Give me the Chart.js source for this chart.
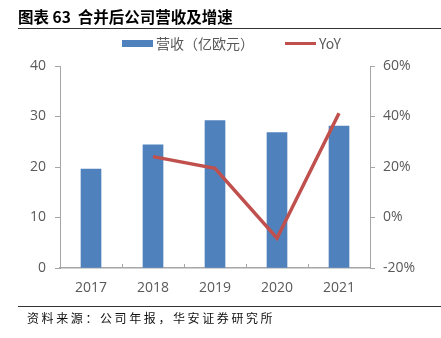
<!DOCTYPE html>
<html>
<head>
<meta charset="utf-8">
<script src="https://cdn.jsdelivr.net/npm/chart.js@4"></script>
<style>
    body { margin: 0; background: #fff; }
    #wrap { position: relative; width: 441px; height: 338px; overflow: hidden; }
    #chart { position: absolute; left: 0; top: 0; }
    .title { position: absolute; left: 18px; top: 5px; font: bold 15.5px "Noto Sans CJK SC", sans-serif; color: #000; white-space: nowrap; }
    .rule { position: absolute; left: 18px; right: 0; height: 1px; background: #333; }
    .source { position: absolute; left: 27px; top: 309px; font: 12px "Noto Sans CJK SC", sans-serif; letter-spacing: 2.6px; color: #111; white-space: nowrap; }
    #legend { position: absolute; top: 34px; left: 0; width: 441px; height: 18px; font: 14px "Noto Sans CJK SC", "Open Sans", sans-serif; color: #595959; }
    .item { position: absolute; top: 0; display: flex; align-items: center; height: 18px; white-space: nowrap; }
    .swatch { display: inline-block; width: 31px; margin-right: 3px; }
</style>
</head>
<body>
<div id="wrap">
    <canvas id="chart" width="441" height="338"></canvas>
    <div class="title">图表 63&nbsp; 合并后公司营收及增速</div>
    <div class="rule" style="top:28px"></div>
    <div id="legend"></div>
    <div class="rule" style="top:306px"></div>
    <div class="source">资料来源：公司年报，华安证券研究所</div>
</div>
<script>
    const years = ['2017', '2018', '2019', '2020', '2021'];
    const revenue = [19.6, 24.4, 29.2, 26.8, 28.1];
    const yoy = [null, 24.1, 19.5, -8.2, 41.3];
    const revenueLabel = '营收（亿欧元）';
    const yoyLabel = 'YoY';

    const BLUE = '#4F81BD';
    const RED = '#C0504D';
    const AXIS = '#A6A6A6';
    const TEXT = '#595959';

    // legend in html
    const legend = document.getElementById('legend');
    legend.innerHTML =
        '<div class="item" style="left:122px"><span class="swatch" style="height:7px;background:' + BLUE + '"></span>' + revenueLabel + '</div>' +
        '<div class="item" style="left:285px"><span class="swatch" style="height:3px;background:' + RED + '"></span>' + yoyLabel + '</div>';

    // small tick marks between categories, pointing up into the plot
    const innerTicks = {
        id: 'innerTicks',
        afterDraw(chart) {
            const x = chart.scales.x;
            const ctx = chart.ctx;
            const bottom = chart.chartArea.bottom;
            ctx.save();
            ctx.strokeStyle = AXIS;
            ctx.lineWidth = 1;
            for (let i = 1; i < years.length; i++) {
                const px = Math.round((x.getPixelForTick(i - 1) + x.getPixelForTick(i)) / 2) + 0.5;
                ctx.beginPath();
                ctx.moveTo(px, bottom - 4);
                ctx.lineTo(px, bottom);
                ctx.stroke();
            }
            ctx.restore();
        }
    };

    const tickFont = { family: '"Open Sans", "Noto Sans", sans-serif', size: 14 };

    new Chart(document.getElementById('chart'), {
        data: {
            labels: years,
            datasets: [
                { type: 'line', label: yoyLabel, data: yoy, yAxisID: 'y1', borderColor: RED, borderWidth: 3.5, pointRadius: 0, tension: 0, order: 0, spanGaps: false },
                { type: 'bar', label: revenueLabel, data: revenue, yAxisID: 'y', backgroundColor: BLUE, barThickness: 20, order: 1 }
            ]
        },
        options: {
            responsive: false,
            animation: false,
            layout: { padding: { top: 66, bottom: 38, left: 0, right: 0 } },
            plugins: { legend: { display: false }, tooltip: { enabled: false } },
            scales: {
                x: {
                    grid: { display: false, drawTicks: false },
                    border: { color: AXIS, width: 1.5 },
                    ticks: { color: TEXT, font: tickFont, padding: 12 },
                    afterFit(s) { s.height = 32; }
                },
                y: {
                    position: 'left',
                    min: 0, max: 40,
                    grid: { drawOnChartArea: false, tickLength: 5, color: AXIS },
                    border: { color: AXIS },
                    ticks: { stepSize: 10, color: TEXT, font: tickFont, padding: 9 },
                    afterFit(s) { s.width = 60; }
                },
                y1: {
                    position: 'right',
                    min: -20, max: 60,
                    grid: { drawOnChartArea: false, tickLength: 5, color: AXIS },
                    border: { color: AXIS },
                    ticks: { stepSize: 20, color: TEXT, font: tickFont, padding: 8, callback: v => v + '%' },
                    afterFit(s) { s.width = 71; }
                }
            }
        },
        plugins: [innerTicks]
    });
</script>
</body>
</html>
